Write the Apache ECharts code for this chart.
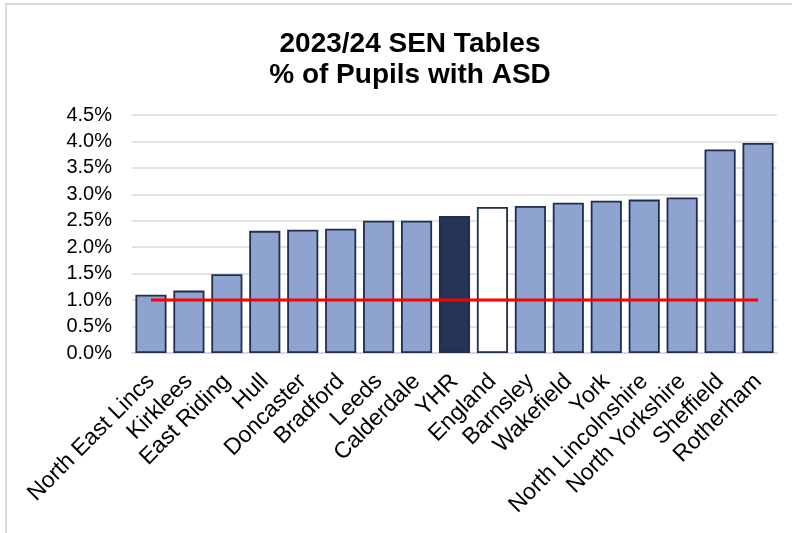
<!DOCTYPE html>
<html><head><meta charset="utf-8">
<script src="https://cdn.jsdelivr.net/npm/echarts@6/dist/echarts.min.js"></script>
<style>
html,body{margin:0;padding:0;background:#fff;}
#frame{position:absolute;left:5px;top:3px;width:800px;height:540px;border-left:2px solid #d9d9d9;border-top:2px solid #d9d9d9;}
#c{position:absolute;left:0;top:0;width:792px;height:533px;}
</style></head>
<body>
<div id="frame"></div>
<div id="c"></div>
<script>
const categories = ["North East Lincs","Kirklees","East Riding","Hull","Doncaster","Bradford","Leeds","Calderdale","YHR","England","Barnsley","Wakefield","York","North Lincolnshire","North Yorkshire","Sheffield","Rotherham"];
const values = [1.10,1.18,1.49,2.31,2.33,2.35,2.50,2.50,2.59,2.76,2.78,2.84,2.88,2.90,2.94,3.85,3.97];
const refLine = [1.0,1.0,1.0,1.0,1.0,1.0,1.0,1.0,1.0,1.0,1.0,1.0,1.0,1.0,1.0,1.0,1.0];
const yTicks = [0,0.5,1,1.5,2,2.5,3,3.5,4,4.5];

const FONT = '"Liberation Sans", Arial';
const colorFor = name => name === "YHR" ? "#253355" : (name === "England" ? "#ffffff" : "#8FA3D1");

const chart = echarts.init(document.getElementById('c'), null, {renderer:'canvas'});
chart.setOption({
  animation:false,
  title:{
    text:"2023/24 SEN Tables\n% of Pupils with ASD",
    left:405, top:24, textAlign:'center',
    textStyle:{fontFamily:FONT,fontSize:28,fontWeight:'bold',color:'#000',lineHeight:31}
  },
  grid:{left:132,right:15,top:115,bottom:180,containLabel:false},
  xAxis:{
    type:'category',data:categories,
    axisLine:{show:true,lineStyle:{color:'#d9d9d9',width:2}},
    axisTick:{show:false},
    axisLabel:{interval:0,rotate:45,fontFamily:FONT,fontSize:23,color:'#000',margin:25}
  },
  yAxis:{
    type:'value',min:0,max:4.5,interval:0.5,
    axisLine:{show:false},axisTick:{show:false},
    splitLine:{lineStyle:{color:'#d9d9d9',width:1.5}},
    axisLabel:{formatter:v=>v.toFixed(1)+'%',fontFamily:FONT,fontSize:20,color:'#000',margin:20}
  },
  series:[
    {type:'bar',data:values.map((v,i)=>({value:v,itemStyle:{color:colorFor(categories[i])}})),
     barCategoryGap:'18%',
     itemStyle:{borderColor:'#1F2D4E',borderWidth:1.8}},
    {type:'line',data:refLine,symbol:'none',lineStyle:{color:'#FF0000',width:3},z:5}
  ]
});
</script>
</body></html>
